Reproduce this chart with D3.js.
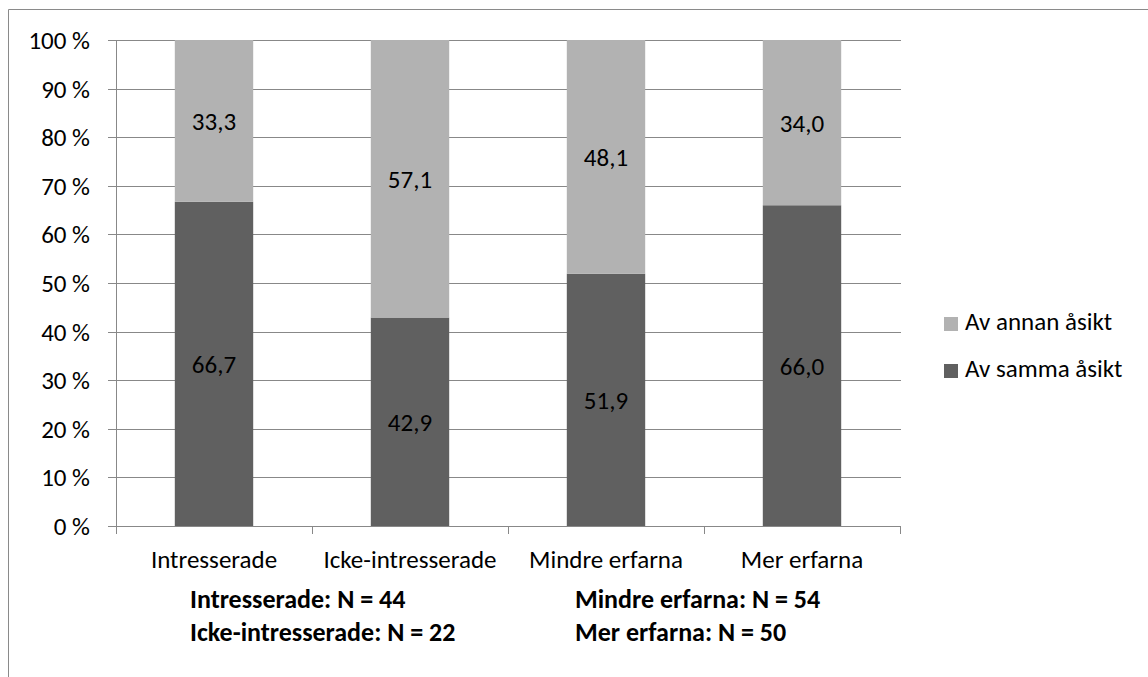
<!DOCTYPE html>
<html>
<head>
<meta charset="utf-8">
<script src="https://cdn.jsdelivr.net/npm/d3@7"></script>
<style>
  body { margin: 0; background: #fff; }
  svg text { font-family: Carlito, Lato, sans-serif; fill: #000; }
</style>
</head>
<body>
<div id="chart"></div>
<script>
const width = 1148;
const height = 677;

// data
const categories = ["Intresserade", "Icke-intresserade", "Mindre erfarna", "Mer erfarna"];
const sammaAsikt = [66.7, 42.9, 51.9, 66.0];
const annanAsikt = [33.3, 57.1, 48.1, 34.0];
const seriesNames = ["Av samma åsikt", "Av annan åsikt"];
const seriesColors = ["#606060", "#b2b2b2"];
const yTicks = [0, 10, 20, 30, 40, 50, 60, 70, 80, 90, 100];
const groupSizes = [
  ["Intresserade", 44], ["Icke-intresserade", 22],
  ["Mindre erfarna", 54], ["Mer erfarna", 50]
];

const fontSize = 25;

const svg = d3.select("#chart")
  .append("svg")
  .attr("width", width)
  .attr("height", height);

// outer frame (only top and left show in the picture)
svg.append("path")
  .attr("d", `M8.5,${height} V9.5 H${width}`)
  .attr("fill", "none")
  .attr("stroke", "#8a8a8a")
  .attr("stroke-width", 1);

const x = d3.scaleBand()
  .domain(categories)
  .range([116, 900])
  .paddingInner(0.6)
  .paddingOuter(0.3);

const y = d3.scaleLinear()
  .domain([0, 100])
  .range([526, 40]);

// gridlines + y ticks
svg.append("g")
  .selectAll("line")
  .data(yTicks)
  .enter().append("line")
  .attr("x1", 108)
  .attr("x2", 901)
  .attr("y1", d => Math.round(y(d)) + 0.5)
  .attr("y2", d => Math.round(y(d)) + 0.5)
  .attr("stroke", "#888")
  .attr("stroke-width", 1);

svg.append("g")
  .selectAll("text")
  .data(yTicks)
  .enter().append("text")
  .attr("x", 90)
  .attr("y", d => y(d) + 9)
  .attr("text-anchor", "end")
  .style("font-size", fontSize + "px")
  .text(d => d + " %");

// stacked bars
const rows = categories.map((c, i) => ({ cat: c, samma: sammaAsikt[i], annan: annanAsikt[i] }));
const stack = d3.stack().keys(["samma", "annan"]);
const layers = stack(rows);

const layer = svg.append("g")
  .selectAll("g")
  .data(layers)
  .enter().append("g")
  .attr("fill", (d, i) => seriesColors[i]);

layer.selectAll("rect")
  .data(d => d)
  .enter().append("rect")
  .attr("x", d => x(d.data.cat))
  .attr("width", x.bandwidth())
  .attr("y", d => y(d[1]))
  .attr("height", d => y(d[0]) - y(d[1]));

const fmt = d3.format(".1f");
layer.selectAll("text")
  .data(d => d)
  .enter().append("text")
  .attr("x", d => x(d.data.cat) + x.bandwidth() / 2)
  .attr("y", d => (y(d[0]) + y(d[1])) / 2 + 9)
  .attr("text-anchor", "middle")
  .style("font-size", fontSize + "px")
  .text(d => fmt(d[1] - d[0]).replace(".", ","));

// axes lines
svg.append("line")
  .attr("x1", 116.5).attr("x2", 116.5)
  .attr("y1", 40).attr("y2", 527)
  .attr("stroke", "#888");

svg.append("line")
  .attr("x1", 108).attr("x2", 901)
  .attr("y1", 526.5).attr("y2", 526.5)
  .attr("stroke", "#888");

// x ticks at category boundaries
const bounds = categories.map(c => x(c) - (x.step() - x.bandwidth()) / 2);
bounds.push(x.range()[1]);
svg.append("g")
  .selectAll("line")
  .data(bounds)
  .enter().append("line")
  .attr("x1", d => Math.round(d) + 0.5)
  .attr("x2", d => Math.round(d) + 0.5)
  .attr("y1", 526)
  .attr("y2", 534)
  .attr("stroke", "#888");

svg.append("g")
  .selectAll("text")
  .data(categories)
  .enter().append("text")
  .attr("x", d => x(d) + x.bandwidth() / 2)
  .attr("y", 568)
  .attr("text-anchor", "middle")
  .style("font-size", fontSize + "px")
  .text(d => d);

// N labels under the axis
svg.append("g")
  .selectAll("text")
  .data(groupSizes)
  .enter().append("text")
  .attr("x", (d, i) => i < 2 ? 190 : 575)
  .attr("y", (d, i) => i % 2 === 0 ? 608 : 641)
  .style("font-size", "26px")
  .style("font-weight", "bold")
  .text(d => `${d[0]}: N = ${d[1]}`);

// legend
const legendItems = [1, 0];
const legend = svg.append("g")
  .selectAll("g")
  .data(legendItems)
  .enter().append("g")
  .attr("transform", (d, i) => `translate(944,${317 + i * 47})`);

legend.append("rect")
  .attr("width", 14)
  .attr("height", 14)
  .attr("fill", d => seriesColors[d]);

legend.append("text")
  .attr("x", 21)
  .attr("y", 13)
  .style("font-size", fontSize + "px")
  .text(d => seriesNames[d]);
</script>
</body>
</html>
